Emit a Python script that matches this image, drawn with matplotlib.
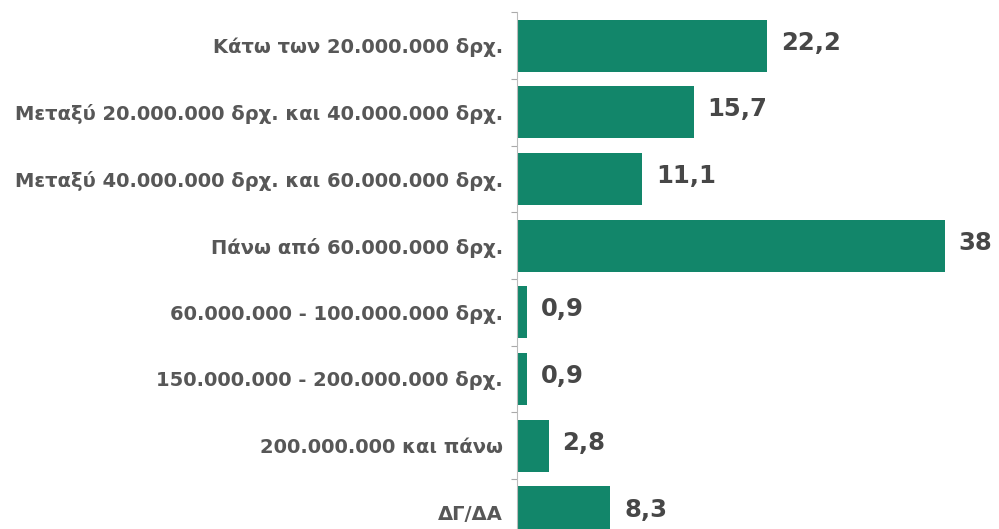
import numpy as np
import matplotlib.pyplot as plt
from matplotlib.ticker import FixedLocator

categories = [
    'Κάτω των 20.000.000 δρχ.',
    'Μεταξύ 20.000.000 δρχ. και 40.000.000 δρχ.',
    'Μεταξύ 40.000.000 δρχ. και 60.000.000 δρχ.',
    'Πάνω από 60.000.000 δρχ.',
    '60.000.000 - 100.000.000 δρχ.',
    '150.000.000 - 200.000.000 δρχ.',
    '200.000.000 και πάνω',
    'ΔΓ/ΔΑ',
]
values = [22.2, 15.7, 11.1, 38, 0.9, 0.9, 2.8, 8.3]
value_labels = ['22,2', '15,7', '11,1', '38', '0,9', '0,9', '2,8', '8,3']

plt.rcParams['font.family'] = ['DejaVu Sans']

fig = plt.figure(figsize=(9.99, 5.29), dpi=100)
ax = fig.add_axes([0.5175, 0.0, 0.4825, 0.977])

y = np.arange(len(categories))
ax.barh(y, values, height=0.78, color='#12866a')

for yi, v, lab in zip(y, values, value_labels):
    ax.annotate(lab, (v, yi), xytext=(10, 2), textcoords='offset points',
                va='center', ha='left', fontsize=17.5, fontweight='bold',
                color='#474747')

ax.set_xlim(0, 42.8)
ax.set_ylim(7.25, -0.5)
ax.set_yticks(y)
ax.set_yticklabels(categories, fontsize=14, fontweight='bold', color='#575757')
ax.yaxis.set_minor_locator(FixedLocator(np.arange(-0.5, len(categories), 1)))
ax.tick_params(axis='y', which='major', length=0, pad=10)
ax.tick_params(axis='y', which='minor', length=4, color='#aaaaaa', width=0.8)
ax.set_xticks([])
for s in ['top', 'right', 'bottom']:
    ax.spines[s].set_visible(False)
ax.spines['left'].set_color('#bbbbbb')
ax.spines['left'].set_linewidth(0.8)

fig.savefig('out.png', dpi=100)
